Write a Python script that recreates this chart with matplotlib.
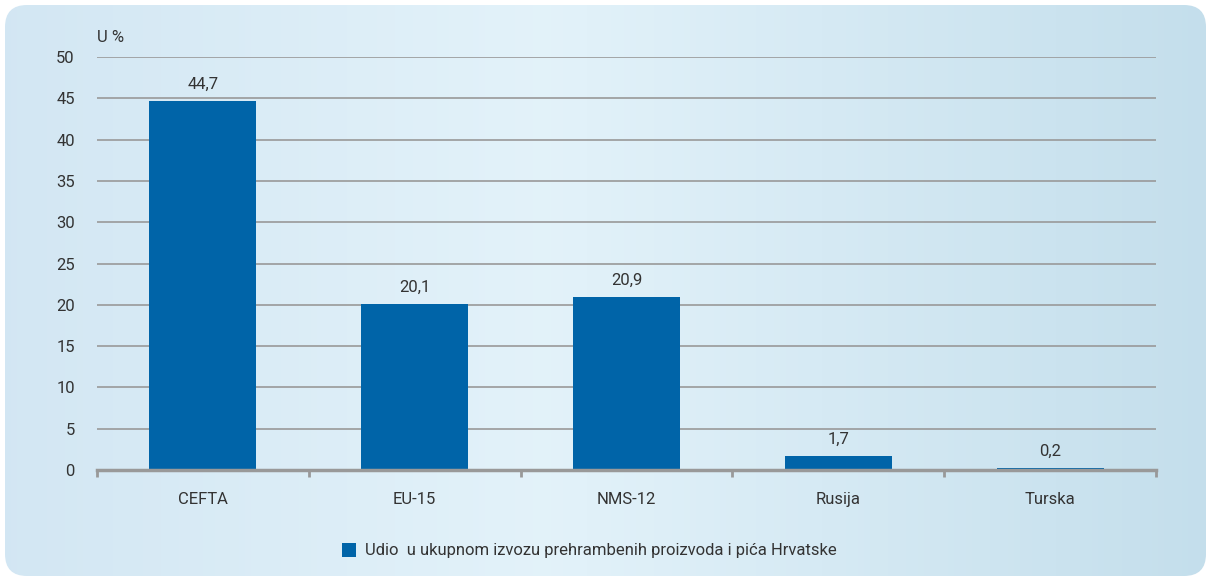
import matplotlib
matplotlib.use("Agg")
import matplotlib.pyplot as plt
import numpy as np
from matplotlib.patches import FancyBboxPatch, Rectangle

categories = ["CEFTA", "EU-15", "NMS-12", "Rusija", "Turska"]
values = [44.7, 20.1, 20.9, 1.7, 0.2]
value_labels = ["44,7", "20,1", "20,9", "1,7", "0,2"]
y_ticks = [0, 5, 10, 15, 20, 25, 30, 35, 40, 45, 50]
legend_label = "Udio  u ukupnom izvozu prehrambenih proizvoda i pića Hrvatske"

W, H = 1211, 581
plt.rcParams["font.family"] = ["Roboto", "DejaVu Sans"]
txt = "#333333"
bar_c = "#0064a8"
fs = 12

fig = plt.figure(figsize=(W / 100, H / 100), dpi=100)
fig.patch.set_facecolor("white")

# background panel with soft gradient
bg = fig.add_axes([0, 0, 1, 1])
bg.set_xlim(0, W)
bg.set_ylim(H, 0)
bg.axis("off")
gx = np.linspace(0, 1, 200)
gy = np.linspace(0, 1, 100)
X, Y = np.meshgrid(gx, gy)
c0 = np.array([0.82, 0.90, 0.95])
c1 = np.array([0.89, 0.95, 0.98])
c2 = np.array([0.78, 0.88, 0.93])
mid = np.abs(X - 0.45) * 2
grad = c1[None, None, :] * (1 - mid[..., None]) + np.where(X[..., None] < 0.45, c0, c2) * mid[..., None]
img = bg.imshow(grad, extent=[5, 1206, 576, 5], aspect="auto", zorder=0)
panel = FancyBboxPatch((5, 5), 1201, 571, boxstyle="round,pad=0,rounding_size=22",
                       transform=bg.transData, facecolor="none", edgecolor="none")
bg.add_patch(panel)
img.set_clip_path(panel)

# legend
bg.add_patch(Rectangle((342, 543), 14, 14, facecolor=bar_c, edgecolor="none", zorder=2))
bg.text(365, 550, legend_label, fontsize=fs, color=txt, va="center", ha="left")
bg.text(97, 37, "U %", fontsize=fs, color=txt, va="center", ha="left")

# main axes
x0, x1, yb, yt = 97, 1156, 470, 57
ax = fig.add_axes([x0 / W, 1 - yb / H, (x1 - x0) / W, (yb - yt) / H])
ax.patch.set_alpha(0)
pos = np.arange(len(categories))
ax.bar(pos, values, width=0.505, color=bar_c, zorder=3)
for p, v, lab in zip(pos, values, value_labels):
    ax.text(p, v + 1.1, lab, ha="center", va="bottom", fontsize=fs, color=txt)

ax.set_xlim(-0.5, len(categories) - 0.5)
ax.set_ylim(0, 50)
ax.set_yticks(y_ticks)
ax.set_yticklabels([str(v) for v in y_ticks])
for v in y_ticks[1:]:
    ax.axhline(v, color="#999999", lw=1.2, zorder=1)
ax.set_xticks(pos)
ax.set_xticklabels(categories)
ax.set_xticks(np.arange(len(categories) + 1) - 0.5, minor=True)
ax.tick_params(axis="x", which="major", length=0, pad=16, labelsize=fs, labelcolor=txt)
ax.tick_params(axis="x", which="minor", length=5, width=2, color="#999999", direction="out")
ax.tick_params(axis="y", length=0, pad=16, labelsize=fs, labelcolor=txt)
for s in ["top", "right", "left"]:
    ax.spines[s].set_visible(False)
ax.spines["bottom"].set_color("#999999")
ax.spines["bottom"].set_linewidth(2.5)
ax.spines["bottom"].set_zorder(4)

fig.savefig("out.png", dpi=100)
